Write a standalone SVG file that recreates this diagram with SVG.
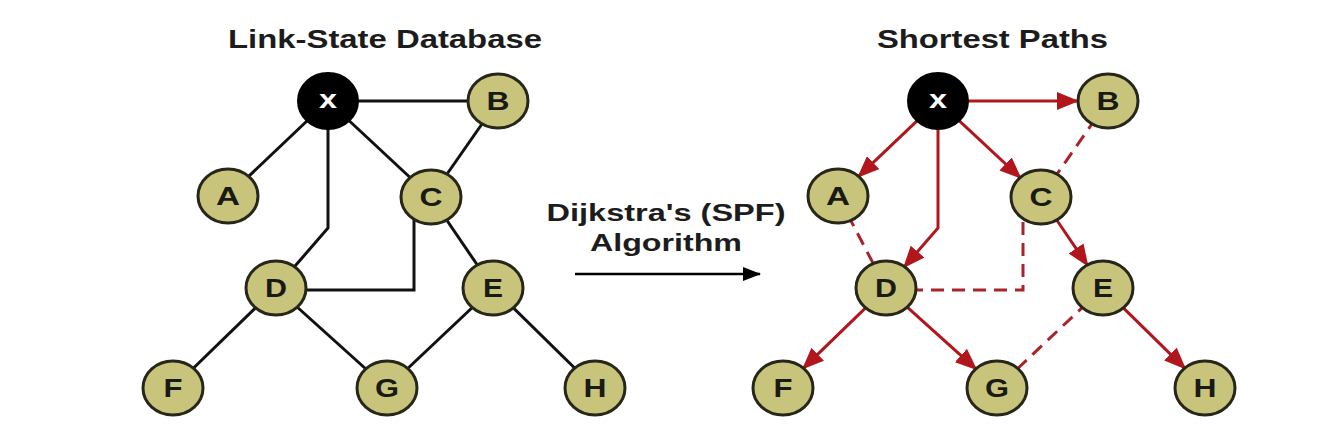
<svg xmlns="http://www.w3.org/2000/svg" width="1344" height="439" viewBox="0 0 1344 439">
<style>
.title{font-family:"Liberation Sans",Arial,sans-serif;font-weight:bold;font-size:25px;fill:#1c1c1c;text-anchor:middle}
.mid{font-family:"Liberation Sans",Arial,sans-serif;font-weight:bold;font-size:23px;fill:#1c1c1c;text-anchor:middle}
.nd{fill:#c9c47b;stroke:#26261a;stroke-width:3}
.nx{fill:#000;stroke:#000;stroke-width:2}
.lb{font-family:"Liberation Sans",Arial,sans-serif;font-weight:bold;font-size:25px;fill:#1a1a14;text-anchor:middle}
.lx{font-family:"Liberation Sans",Arial,sans-serif;font-weight:bold;font-size:25px;fill:#fff;text-anchor:middle}
.bl{fill:none;stroke:#111;stroke-width:3}
.rd{fill:none;stroke:#b0161b;stroke-width:3;marker-end:url(#ar)}
.dsh{fill:none;stroke:#a8242a;stroke-width:3;stroke-dasharray:13 8}
</style>
<defs>
<marker id="ar" markerUnits="userSpaceOnUse" viewBox="0 0 22 18" markerWidth="22" markerHeight="18" refX="20" refY="9" orient="auto">
<path d="M0,0 L22,9 L0,18 Z" fill="#b0161b"/>
</marker>
<marker id="ab" markerUnits="userSpaceOnUse" viewBox="0 0 18 14" markerWidth="18" markerHeight="14" refX="17" refY="7" orient="auto">
<path d="M0,0 L18,7 L0,14 Z" fill="#000"/>
</marker>
</defs>
<rect width="1344" height="439" fill="#fff"/>

<g id="titles">
<text class="title" x="385" y="48" textLength="314" lengthAdjust="spacingAndGlyphs">Link-State Database</text>
<text class="title" x="992.5" y="48" textLength="231" lengthAdjust="spacingAndGlyphs">Shortest Paths</text>
</g>

<g id="algorithm">
<text class="mid" x="666" y="221" textLength="239" lengthAdjust="spacingAndGlyphs">Dijkstra's (SPF)</text>
<text class="mid" x="666" y="251" textLength="152" lengthAdjust="spacingAndGlyphs">Algorithm</text>
<line x1="575" y1="274" x2="760" y2="274" stroke="#000" stroke-width="2.5" marker-end="url(#ab)"/>
</g>

<g id="connectors">
<!-- left graph -->
<line class="bl" x1="328" y1="101" x2="498" y2="101"/>
<line class="bl" x1="328" y1="101" x2="228" y2="196"/>
<line class="bl" x1="328" y1="101" x2="431" y2="197"/>
<line class="bl" x1="498" y1="101" x2="431" y2="197"/>
<polyline class="bl" points="328,110 328,228 276,288"/>
<polyline class="bl" points="414,200 414,290 276,290"/>
<line class="bl" x1="431" y1="197" x2="493" y2="288"/>
<line class="bl" x1="276" y1="288" x2="173" y2="388"/>
<line class="bl" x1="276" y1="288" x2="387" y2="388"/>
<line class="bl" x1="493" y1="288" x2="387" y2="388"/>
<line class="bl" x1="493" y1="288" x2="595" y2="388"/>
<!-- right graph dashed -->
<line class="dsh" x1="1108" y1="101" x2="1041" y2="197"/>
<line class="dsh" x1="838" y1="196" x2="886" y2="288"/>
<polyline class="dsh" points="1023,222 1023,290 915,290"/>
<line class="dsh" x1="1103" y1="288" x2="997" y2="388"/>
<!-- right graph arrows -->
<line class="rd" x1="968" y1="101" x2="1077" y2="101"/>
<line class="rd" x1="917.3" y1="120.6" x2="858.7" y2="176.4"/>
<line class="rd" x1="958.8" y1="120.4" x2="1020.2" y2="177.6"/>
<polyline class="rd" points="938,128 938,228 904.4,266.7"/>
<line class="rd" x1="1056.7" y1="220" x2="1087.3" y2="265"/>
<line class="rd" x1="865.6" y1="307.8" x2="803.4" y2="368.2"/>
<line class="rd" x1="907.2" y1="307.1" x2="975.8" y2="368.9"/>
<line class="rd" x1="1123.3" y1="307.9" x2="1184.7" y2="368.1"/>
</g>

<!-- left nodes -->
<g id="L-x"><ellipse class="nx" cx="328" cy="101" rx="30" ry="28"/><text class="lx" x="328" y="108" textLength="18" lengthAdjust="spacingAndGlyphs">x</text></g>
<g id="L-B"><ellipse class="nd" cx="498" cy="101" rx="30" ry="27"/><text class="lb" x="498" y="110" textLength="23" lengthAdjust="spacingAndGlyphs">B</text></g>
<g id="L-A"><ellipse class="nd" cx="228" cy="196" rx="30" ry="27"/><text class="lb" x="228" y="205" textLength="24" lengthAdjust="spacingAndGlyphs">A</text></g>
<g id="L-C"><ellipse class="nd" cx="431" cy="197" rx="30" ry="27"/><text class="lb" x="431" y="206" textLength="23" lengthAdjust="spacingAndGlyphs">C</text></g>
<g id="L-D"><ellipse class="nd" cx="276" cy="288" rx="30" ry="27"/><text class="lb" x="276" y="297" textLength="22" lengthAdjust="spacingAndGlyphs">D</text></g>
<g id="L-E"><ellipse class="nd" cx="493" cy="288" rx="30" ry="27"/><text class="lb" x="493" y="297" textLength="20" lengthAdjust="spacingAndGlyphs">E</text></g>
<g id="L-F"><ellipse class="nd" cx="173" cy="388" rx="30" ry="27"/><text class="lb" x="173" y="397" textLength="19" lengthAdjust="spacingAndGlyphs">F</text></g>
<g id="L-G"><ellipse class="nd" cx="387" cy="388" rx="30" ry="27"/><text class="lb" x="387" y="397" textLength="24" lengthAdjust="spacingAndGlyphs">G</text></g>
<g id="L-H"><ellipse class="nd" cx="595" cy="388" rx="30" ry="27"/><text class="lb" x="595" y="397" textLength="23" lengthAdjust="spacingAndGlyphs">H</text></g>

<!-- right nodes -->
<g id="R-x"><ellipse class="nx" cx="938" cy="101" rx="30" ry="28"/><text class="lx" x="938" y="108" textLength="18" lengthAdjust="spacingAndGlyphs">x</text></g>
<g id="R-B"><ellipse class="nd" cx="1108" cy="101" rx="30" ry="27"/><text class="lb" x="1108" y="110" textLength="23" lengthAdjust="spacingAndGlyphs">B</text></g>
<g id="R-A"><ellipse class="nd" cx="838" cy="196" rx="30" ry="27"/><text class="lb" x="838" y="205" textLength="24" lengthAdjust="spacingAndGlyphs">A</text></g>
<g id="R-C"><ellipse class="nd" cx="1041" cy="197" rx="30" ry="27"/><text class="lb" x="1041" y="206" textLength="23" lengthAdjust="spacingAndGlyphs">C</text></g>
<g id="R-D"><ellipse class="nd" cx="886" cy="288" rx="30" ry="27"/><text class="lb" x="886" y="297" textLength="22" lengthAdjust="spacingAndGlyphs">D</text></g>
<g id="R-E"><ellipse class="nd" cx="1103" cy="288" rx="30" ry="27"/><text class="lb" x="1103" y="297" textLength="20" lengthAdjust="spacingAndGlyphs">E</text></g>
<g id="R-F"><ellipse class="nd" cx="783" cy="388" rx="30" ry="27"/><text class="lb" x="783" y="397" textLength="19" lengthAdjust="spacingAndGlyphs">F</text></g>
<g id="R-G"><ellipse class="nd" cx="997" cy="388" rx="30" ry="27"/><text class="lb" x="997" y="397" textLength="24" lengthAdjust="spacingAndGlyphs">G</text></g>
<g id="R-H"><ellipse class="nd" cx="1205" cy="388" rx="30" ry="27"/><text class="lb" x="1205" y="397" textLength="23" lengthAdjust="spacingAndGlyphs">H</text></g>
</svg>
